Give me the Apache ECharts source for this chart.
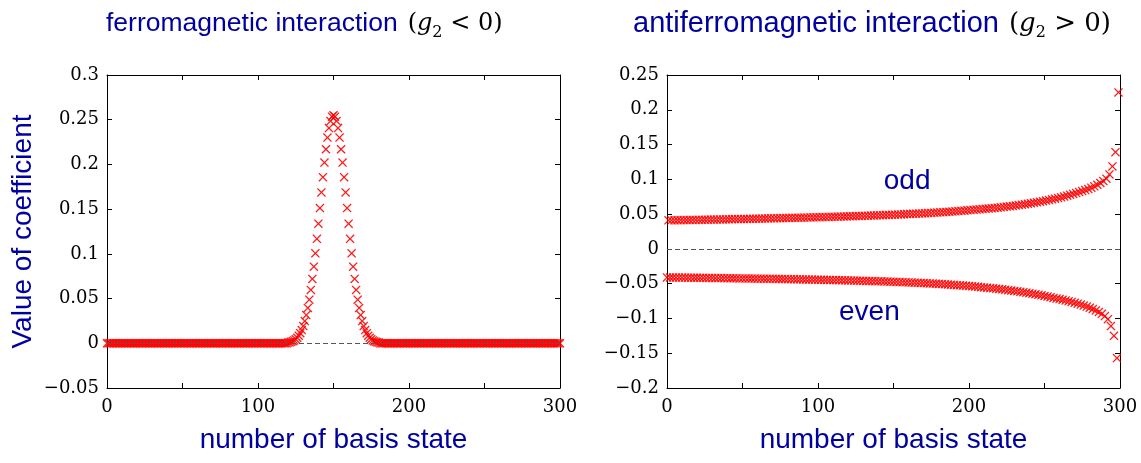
<!DOCTYPE html>
<html>
<head>
<meta charset="utf-8">
<script src="https://cdn.jsdelivr.net/npm/echarts@6/dist/echarts.min.js"></script>
<style>
  html, body { margin: 0; padding: 0; background: #fff; }
  #chart { width: 1141px; height: 463px; }
</style>
</head>
<body>
<div id="chart"></div>
<script>
// coefficient of basis state n (n = 0..300), ferromagnetic case
const ferroCoef = [
  0,0,0,0,0,0,0,0,0,0,0,0,0,0,0,0,0,0,0,0,
  0,0,0,0,0,0,0,0,0,0,0,0,0,0,0,0,0,0,0,0,
  0,0,0,0,0,0,0,0,0,0,0,0,0,0,0,0,0,0,0,0,
  0,0,0,0,0,0,0,0,0,0,0,0,0,0,0,0,0,0,0,0,
  0,0,0,0,0,0,0,0,0,0,0,0,0,0,0,0,0,0,0,0,
  0,0,0,0,0,0,0,0,0,0,0,0,0,0,0,0,0,0,0,0,
  0.0008,0.0011,0.0016,0.0023,0.0032,0.0045,0.0062,0.0084,0.0112,0.0148,
  0.0193,0.0248,0.0315,0.0395,0.0488,0.0597,0.0720,0.0857,0.1006,0.1168,
  0.1337,0.1512,0.1687,0.1858,0.2021,0.2170,0.2300,0.2406,0.2485,0.2534,
  0.2550,
  0.2534,0.2485,0.2406,0.2300,0.2170,0.2021,0.1858,0.1687,0.1512,0.1337,
  0.1168,0.1006,0.0857,0.0720,0.0597,0.0488,0.0395,0.0315,0.0248,0.0193,
  0.0148,0.0112,0.0084,0.0062,0.0045,0.0032,0.0023,0.0016,0.0011,0.0008,
  0,0,0,0,0,0,0,0,0,0,0,0,0,0,0,0,0,0,0,0,
  0,0,0,0,0,0,0,0,0,0,0,0,0,0,0,0,0,0,0,0,
  0,0,0,0,0,0,0,0,0,0,0,0,0,0,0,0,0,0,0,0,
  0,0,0,0,0,0,0,0,0,0,0,0,0,0,0,0,0,0,0,0,
  0,0,0,0,0,0,0,0,0,0,0,0,0,0,0,0,0,0,0,0,
  0,0,0,0,0,0,0,0,0,0,0,0,0,0,0,0,0,0,0,0
]

// antiferromagnetic case: odd basis states n = 1,3,...,299
const oddCoef = [
  0.0410,0.0411,0.0411,0.0412,0.0413,0.0414,0.0414,0.0415,0.0416,0.0417,
  0.0418,0.0418,0.0419,0.0420,0.0421,0.0422,0.0422,0.0423,0.0424,0.0425,
  0.0426,0.0427,0.0428,0.0428,0.0429,0.0430,0.0431,0.0432,0.0433,0.0434,
  0.0435,0.0436,0.0437,0.0438,0.0439,0.0440,0.0441,0.0442,0.0443,0.0444,
  0.0445,0.0446,0.0447,0.0448,0.0449,0.0450,0.0451,0.0452,0.0454,0.0455,
  0.0456,0.0457,0.0458,0.0460,0.0461,0.0462,0.0463,0.0465,0.0466,0.0467,
  0.0469,0.0470,0.0472,0.0473,0.0474,0.0476,0.0477,0.0479,0.0480,0.0482,
  0.0484,0.0485,0.0487,0.0489,0.0490,0.0492,0.0494,0.0496,0.0498,0.0500,
  0.0502,0.0504,0.0506,0.0508,0.0510,0.0512,0.0515,0.0517,0.0520,0.0522,
  0.0525,0.0528,0.0531,0.0534,0.0537,0.0540,0.0543,0.0547,0.0550,0.0554,
  0.0558,0.0561,0.0565,0.0569,0.0573,0.0577,0.0581,0.0585,0.0589,0.0593,
  0.0598,0.0603,0.0608,0.0613,0.0618,0.0624,0.0630,0.0636,0.0642,0.0649,
  0.0656,0.0663,0.0670,0.0678,0.0686,0.0694,0.0703,0.0712,0.0721,0.0731,
  0.0742,0.0753,0.0765,0.0777,0.0790,0.0803,0.0817,0.0831,0.0846,0.0862,
  0.0880,0.0900,0.0922,0.0947,0.0975,0.1010,0.1070,0.1185,0.1390,0.2250
]

// even basis states n = 0,2,...,298
const evenCoef = [
  -0.0410,-0.0411,-0.0411,-0.0412,-0.0412,-0.0413,-0.0413,-0.0414,-0.0414,-0.0415,
  -0.0415,-0.0416,-0.0416,-0.0417,-0.0418,-0.0418,-0.0419,-0.0419,-0.0420,-0.0421,
  -0.0421,-0.0422,-0.0422,-0.0423,-0.0424,-0.0424,-0.0425,-0.0426,-0.0426,-0.0427,
  -0.0428,-0.0428,-0.0429,-0.0430,-0.0430,-0.0431,-0.0432,-0.0433,-0.0433,-0.0434,
  -0.0435,-0.0436,-0.0436,-0.0437,-0.0438,-0.0439,-0.0440,-0.0441,-0.0441,-0.0442,
  -0.0443,-0.0444,-0.0445,-0.0446,-0.0447,-0.0448,-0.0449,-0.0450,-0.0451,-0.0452,
  -0.0453,-0.0454,-0.0455,-0.0457,-0.0458,-0.0459,-0.0460,-0.0462,-0.0463,-0.0464,
  -0.0466,-0.0467,-0.0469,-0.0470,-0.0472,-0.0473,-0.0475,-0.0477,-0.0478,-0.0480,
  -0.0482,-0.0484,-0.0486,-0.0488,-0.0490,-0.0492,-0.0494,-0.0496,-0.0499,-0.0501,
  -0.0504,-0.0506,-0.0509,-0.0512,-0.0515,-0.0518,-0.0521,-0.0524,-0.0527,-0.0531,
  -0.0534,-0.0538,-0.0542,-0.0546,-0.0550,-0.0554,-0.0558,-0.0563,-0.0567,-0.0572,
  -0.0577,-0.0582,-0.0587,-0.0593,-0.0598,-0.0604,-0.0610,-0.0617,-0.0623,-0.0630,
  -0.0637,-0.0644,-0.0652,-0.0660,-0.0668,-0.0677,-0.0686,-0.0695,-0.0705,-0.0715,
  -0.0722,-0.0731,-0.0741,-0.0752,-0.0763,-0.0775,-0.0788,-0.0801,-0.0815,-0.0830,
  -0.0846,-0.0864,-0.0884,-0.0907,-0.0934,-0.0966,-0.1010,-0.1110,-0.1250,-0.1570
]

const xTickLabels = [0, 100, 200, 300]
const titles = ['ferromagnetic interaction', 'antiferromagnetic interaction']
const titleMath = ['<', '>']

const BLUE = '#0000a0'
const RED = '#ff0000'
const CROSS = 'path://M0,1L1,0L5,4L9,0L10,1L6,5L10,9L9,10L5,6L1,10L0,9L4,5Z'

const chart = echarts.init(document.getElementById('chart'))

function yFmt(v) {
  const r = Math.round(v * 100) / 100
  if (r === 0) return '0'
  return (r < 0 ? '\u2212' : '') + String(Math.abs(r))
}

function xFmt(v) {
  return xTickLabels.indexOf(Math.round(v)) >= 0 ? String(Math.round(v)) : ''
}

const tickLabelStyle = { fontFamily: 'DejaVu Serif', fontSize: 18, color: '#000' }
const frameLine = { show: true, onZero: false, lineStyle: { color: '#000', width: 1 } }
const innerTick = { show: true, inside: true, length: 5, lineStyle: { color: '#000' } }

function xAxes(grid) {
  const base = {
    gridIndex: grid, type: 'value', min: 0, max: 300, interval: 50,
    splitLine: { show: false }, axisLine: frameLine, axisTick: innerTick
  }
  return [
    Object.assign({}, base, {
      position: 'bottom',
      axisLabel: Object.assign({ formatter: xFmt, margin: 10 }, tickLabelStyle),
      name: 'number of basis state', nameLocation: 'middle', nameGap: 38,
      nameTextStyle: { fontFamily: 'Liberation Sans', fontSize: 28, color: BLUE }
    }),
    Object.assign({}, base, { position: 'top', axisLabel: { show: false } })
  ]
}

function yAxes(grid, min, max, withName) {
  const base = {
    gridIndex: grid, type: 'value', min: min, max: max, interval: 0.05,
    splitLine: { show: false }, axisLine: frameLine, axisTick: innerTick
  }
  const left = Object.assign({}, base, {
    position: 'left',
    axisLabel: Object.assign({ formatter: yFmt, margin: 8 }, tickLabelStyle)
  })
  if (withName) {
    Object.assign(left, {
      name: 'Value of coefficient', nameLocation: 'middle', nameGap: 70,
      nameTextStyle: { fontFamily: 'Liberation Sans', fontSize: 28, color: BLUE }
    })
  }
  return [left, Object.assign({}, base, { position: 'right', axisLabel: { show: false } })]
}

function crossSeries(name, xi, yi, data, zeroLine) {
  const s = {
    name: name, type: 'scatter', xAxisIndex: xi, yAxisIndex: yi,
    symbol: CROSS, symbolSize: 9, silent: true,
    itemStyle: { color: RED, opacity: 0.9 },
    data: data
  }
  if (zeroLine) {
    s.markLine = {
      silent: true, symbol: 'none', z: 10, label: { show: false },
      lineStyle: { color: '#555', type: [5, 3], width: 1, opacity: 1 },
      data: [{ yAxis: 0 }]
    }
  }
  return s
}

function textSeries(text, xi, yi, pos) {
  return {
    type: 'scatter', xAxisIndex: xi, yAxisIndex: yi, silent: true,
    symbolSize: 1, itemStyle: { color: 'transparent', opacity: 1 },
    label: {
      show: true, position: 'inside', formatter: text,
      fontFamily: 'Liberation Sans', fontSize: 28, color: BLUE, opacity: 1
    },
    data: [pos]
  }
}

function titleOf(i, left, size) {
  const base = { fontWeight: 'normal', lineHeight: 34 }
  const mathSize = Math.round(size * 0.9)
  return {
    left: left, top: 2,
    text: '{t|' + titles[i] + '}  {m|(}{i|g}{s|2}{m| ' + titleMath[i] + ' 0)}',
    textStyle: {
      fontWeight: 'normal',
      rich: {
        t: Object.assign({ fontFamily: 'Liberation Sans', fontSize: size, color: BLUE }, base),
        m: Object.assign({ fontFamily: 'DejaVu Serif', fontSize: mathSize, color: '#000' }, base),
        i: Object.assign({ fontFamily: 'DejaVu Serif', fontStyle: 'italic', fontSize: mathSize, color: '#000' }, base),
        s: { fontFamily: 'DejaVu Serif', fontWeight: 'normal', fontSize: 16, color: '#000', lineHeight: 24, verticalAlign: 'bottom' }
      }
    }
  }
}

const ferroData = ferroCoef.map((v, n) => [n, v])
const oddData = oddCoef.map((v, k) => [2 * k + 1, v])
const evenData = evenCoef.map((v, k) => [2 * k, v])

chart.setOption({
  animation: false,
  title: [titleOf(0, 101, 26.5), titleOf(1, 628, 29)],
  grid: [
    { left: 107, top: 75, width: 453, height: 313 },
    { left: 667, top: 75, width: 453, height: 313 }
  ],
  xAxis: xAxes(0).concat(xAxes(1)),
  yAxis: yAxes(0, -0.05, 0.3, true).concat(yAxes(1, -0.2, 0.25, false)),
  series: [
    crossSeries('ferro', 0, 0, ferroData, true),
    crossSeries('odd', 2, 2, oddData, true),
    crossSeries('even', 2, 2, evenData, false),
    textSeries('odd', 2, 2, [159, 0.097]),
    textSeries('even', 2, 2, [134, -0.091])
  ]
})
</script>
</body>
</html>
